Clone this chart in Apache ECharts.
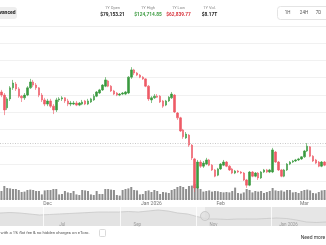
<!DOCTYPE html>
<html><head><meta charset="utf-8">
<script src="https://cdn.jsdelivr.net/npm/echarts@6/dist/echarts.min.js"></script>
<style>html,body{margin:0;padding:0;background:#fff;overflow:hidden}#c{width:326px;height:245px}</style>
</head><body><div id="c"></div>
<script>
// daily candles: [open, close, low, high] (USD)
const candles = [
[90800,89900,89300,91400],[89900,85600,84100,90500],[86200,88800,85600,89300],[88800,92000,88200,92500],
[92000,93400,91400,94300],[93100,91700,91100,93700],[91700,89600,89100,92200],[89600,89100,87900,89900],
[89100,89900,88500,90500],[89900,92000,89600,92500],[92000,93700,91700,94600],[93700,92800,92200,94300],
[92800,92000,91400,93400],[92000,89900,89300,92200],[89900,88500,87900,90500],[88500,87300,86700,89100],
[87300,88200,86700,88800],[88200,86700,86200,88800],[86700,85600,84400,87300],[85600,88500,85000,89100],
[88500,88800,87900,89300],[88800,89100,88200,89600],[89100,88200,87600,89300],[88200,87300,86700,88800],
[87300,87600,86700,88200],[87300,87600,87000,88200],[87600,87000,86700,88200],[87000,87600,86700,87900],
[87300,87900,87000,88500],[88200,87300,87000,88500],[87300,88200,87000,88800],[87900,88800,87600,89100],
[88500,89600,88200,90200],[89600,90800,89300,91100],[90500,91400,90200,91700],[91400,92800,91100,93100],
[92500,94300,92200,95100],[94000,92500,92200,94300],[92500,91100,90800,92800],[91100,90200,89900,91400],
[90500,89900,89600,90800],[89900,90200,89600,90500],[90200,90500,89900,90800],[90200,90800,89900,91100],
[90500,95100,90200,95400],[95100,97200,94600,98000],[97200,96300,95700,97500],[96300,95700,95400,96600],
[95700,95100,94800,96000],[95100,94600,94300,95400],[94600,92500,92200,94800],[92500,88800,88200,92800],
[88500,89100,87600,89600],[89100,89600,88800,90200],[89600,89300,89100,90200],[89600,87900,87600,89900],
[88200,86700,86200,88500],[87000,88200,86700,88500],[88200,89300,87900,89600],[89100,90200,88800,90800],
[89900,85000,84700,90200],[84700,83300,82700,85000],[83300,79500,79200,83600],[79800,77800,77200,80100],
[77500,78600,77200,79200],[78300,75400,74900,78600],[75400,71700,71100,75700],[71400,63000,61800,71700],
[63000,70500,62700,71100],[70500,69300,68800,71100],[69300,70200,68800,70800],[69900,71100,69600,71700],
[71100,69600,69300,71400],[69600,68200,67900,69900],[68200,66400,66100,68500],[66700,68500,66400,68800],
[68500,69900,68200,70200],[69600,70500,69300,71100],[70500,69300,69000,70800],[69300,68200,67900,69600],
[68500,67300,67000,68800],[67300,67900,67000,68200],[67900,67600,67300,68200],[67600,67300,67000,67900],
[67300,65300,65000,67600],[65300,63800,63000,65600],[63800,67600,63500,67900],[67600,66400,66100,67900],
[66400,67300,66100,67600],[67300,65900,65300,67600],[65900,67600,65600,67900],[67600,68200,67300,68500],
[68200,67600,67300,68500],[67600,68200,67300,68500],[67600,74000,67300,74600],[73400,70500,70200,73700],
[70500,68200,67900,70800],[68200,66400,66100,68500],[66400,68200,66100,68500],[68200,69900,67900,70200],
[69900,70500,69600,70800],[70500,70800,70200,71100],[70800,71100,70500,71400],[71100,71400,70800,71700],
[71400,72000,71100,72200],[72000,73700,71700,74000],[73700,75100,73400,76000],[74900,72200,71900,75100],
[72200,70800,70500,72500],[71100,70200,69900,71400],[70500,69300,69000,70800],[69300,70500,69000,70800],
[70500,69600,69300,70800]
];
// daily volume (USD billions)
const volumes = [45,70,60,58,55,55,50,40,42,50,52,50,45,45,28,48,50,50,55,55,28,30,45,38,35,45,28,25,50,48,45,28,25,45,30,30,55,55,52,50,25,22,50,55,58,65,50,48,28,30,45,48,40,50,45,30,40,38,35,50,55,65,70,65,55,70,72,80,68,55,42,45,48,42,45,44,40,38,40,38,45,62,35,32,38,55,50,38,45,42,45,35,40,45,60,48,45,48,42,50,50,38,40,35,45,50,52,48,35,33,40,48,50];
const xTickIndex = [16, 52, 76, 105];
const xTickLabels = ['Dec', 'Jan 2026', 'Feb', 'Mar'];
const refPrice = 76000;
// navigator (1Y overview, USD thousands)
const navValues = [106,107.5,106,103,100,101.5,103,104.5,106,107.5,109,109,109,110.5,109,112,115,112,106,103,95,88,88,86.5,88,88,88,89.5,91,89.5,85,79,77.5,79];
const navHandle = 20.75;
const navHandleValue = 97;
const navLabels = ['Jul', 'Sep', 'Nov', 'Jan 2026'];
const navLabelPos = [6.3, 13.9, 21.6, 29.2];
const navLinePos = [4.35, 12.15, 19.85, 27.45];
const statLabels = ['1Y Open', '1Y High', '1Y Low', '1Y Vol.'];
const statValues = ['$79,153.21', '$124,714.85', '$62,839.77', '$8.17T'];
const rangeButtons = ['1H', '24H', '7D'];

const categories = candles.map((c, i) => 'd' + i);
const UP = '#3a9a3f', DOWN = '#ee5b66';
const FONT = 'Roboto';

const chart = echarts.init(document.getElementById('c'), null, {renderer: 'canvas'});

const statX = [112.5, 148, 178.5, 209.5];
const statColor = ['#222', '#3a9a3f', '#d8343d', '#222'];
const btnX = [287.5, 304, 318.5];
const graphics = [
  {type: 'rect', shape: {x: -25, y: 7, width: 42, height: 12, r: 3}, style: {fill: '#eeeeee'}},
  {type: 'text', x: 15.5, y: 13, style: {text: 'Advanced', align: 'right', verticalAlign: 'middle', font: 'bold 5px ' + FONT, fill: '#222'}},
  {type: 'line', shape: {x1: 0, y1: 26.5, x2: 326, y2: 26.5}, style: {stroke: '#efefef', lineWidth: 1}},
  {type: 'rect', shape: {x: 277.5, y: 6.5, width: 60, height: 13, r: 3}, style: {fill: '#fff', stroke: '#e4e4e4', lineWidth: 1}}
];
statLabels.forEach((t, i) => {
  graphics.push({type: 'text', x: statX[i], y: 8, style: {text: t, align: 'center', verticalAlign: 'middle', font: '4px ' + FONT, fill: '#888'}});
  graphics.push({type: 'text', x: statX[i], y: 15, style: {text: statValues[i], align: 'center', verticalAlign: 'middle', font: 'bold 4.8px ' + FONT, fill: statColor[i]}});
});
rangeButtons.forEach((t, i) => {
  graphics.push({type: 'text', x: btnX[i], y: 13, style: {text: t, align: 'center', verticalAlign: 'middle', font: '4.5px ' + FONT, fill: '#555'}});
});
graphics.push({type: 'text', x: 0.5, y: 233, style: {text: 'with a 1% flat fee & no hidden charges on eToro.', align: 'left', verticalAlign: 'middle', font: '4.2px ' + FONT, fill: '#555'}});
graphics.push({type: 'rect', shape: {x: 99.5, y: 229.5, width: 6, height: 7, r: 1}, style: {fill: '#fff', stroke: '#d0d0d0', lineWidth: 0.8}});
graphics.push({type: 'text', x: 313, y: 237.5, style: {text: 'Need more', align: 'center', verticalAlign: 'middle', font: '5px ' + FONT, fill: '#333'}});

chart.setOption({
  animation: false,
  backgroundColor: '#fff',
  textStyle: {fontFamily: FONT},
  grid: [
    {left: 0, right: 0, top: 43, height: 155.25},
    {left: 0, right: 0, top: 180, height: 20},
    {left: 0, right: 0, top: 207, height: 19, show: true, backgroundColor: '#f3f3f3', borderWidth: 0}
  ],
  xAxis: [
    {type: 'category', gridIndex: 0, data: categories, boundaryGap: true,
     axisLine: {show: false}, axisTick: {show: false}, splitLine: {show: false},
     axisLabel: {show: true, margin: 3, fontSize: 5, color: '#777', fontFamily: FONT,
       interval: (idx) => xTickIndex.includes(idx),
       formatter: (v, idx) => { const k = xTickIndex.indexOf(idx); return k >= 0 ? xTickLabels[k] : ''; }}},
    {type: 'category', gridIndex: 1, data: categories, boundaryGap: true, show: false},
    {type: 'value', gridIndex: 2, min: 0, max: navValues.length - 1, show: false}
  ],
  yAxis: [
    {type: 'value', gridIndex: 0, min: 60000, max: 105000, interval: 5000, position: 'right',
     axisLabel: {show: false}, axisLine: {show: false}, axisTick: {show: false},
     splitLine: {show: true, lineStyle: {color: '#f1f1f1', width: 1}}},
    {type: 'value', gridIndex: 1, min: 0, max: 100, show: false},
    {type: 'value', gridIndex: 2, min: 67, max: 124, show: false}
  ],
  series: [
    {type: 'bar', xAxisIndex: 1, yAxisIndex: 1, data: volumes, barWidth: 2,
     itemStyle: {color: '#8e8e8e'}, silent: true, z: 1},
    {type: 'candlestick', xAxisIndex: 0, yAxisIndex: 0, data: candles, barWidth: 2,
     itemStyle: {color: UP, color0: DOWN, borderColor: UP, borderColor0: DOWN, borderWidth: 0.6},
     markLine: {silent: true, symbol: 'none', label: {show: false},
       lineStyle: {color: '#bdbdbd', type: [1, 1.5], width: 0.8},
       data: [{yAxis: refPrice}]},
     z: 3},
    {type: 'line', xAxisIndex: 2, yAxisIndex: 2, data: navValues.map((v, i) => [i, v]),
     symbol: 'none', smooth: false, lineStyle: {color: '#c8c8c8', width: 0.8},
     areaStyle: {color: '#e3e3e3', opacity: 1},
     markArea: {silent: true, itemStyle: {color: 'rgba(0,0,0,0.05)'},
       data: [[{xAxis: navHandle}, {xAxis: navValues.length - 1}]]},
     markLine: {silent: true, symbol: 'none', label: {show: false},
       lineStyle: {color: '#ffffff', type: 'solid', width: 0.8},
       data: navLinePos.map(p => ({xAxis: p}))},
     z: 2},
    {type: 'scatter', xAxisIndex: 2, yAxisIndex: 2, data: [[navHandle, navHandleValue]],
     symbol: 'circle', symbolSize: 9,
     itemStyle: {color: '#dedede', borderColor: '#c4c4c4', borderWidth: 1}, z: 4,
     label: {show: false}},
    {type: 'scatter', xAxisIndex: 2, yAxisIndex: 2, data: navLabelPos.map((p, i) => ({value: [p, 69], name: navLabels[i]})),
     symbolSize: 0, z: 5,
     label: {show: true, position: 'inside', formatter: (p) => p.name, fontSize: 4.5, color: '#888', fontFamily: FONT}}
  ],
  graphic: graphics
});
</script>
</body></html>
